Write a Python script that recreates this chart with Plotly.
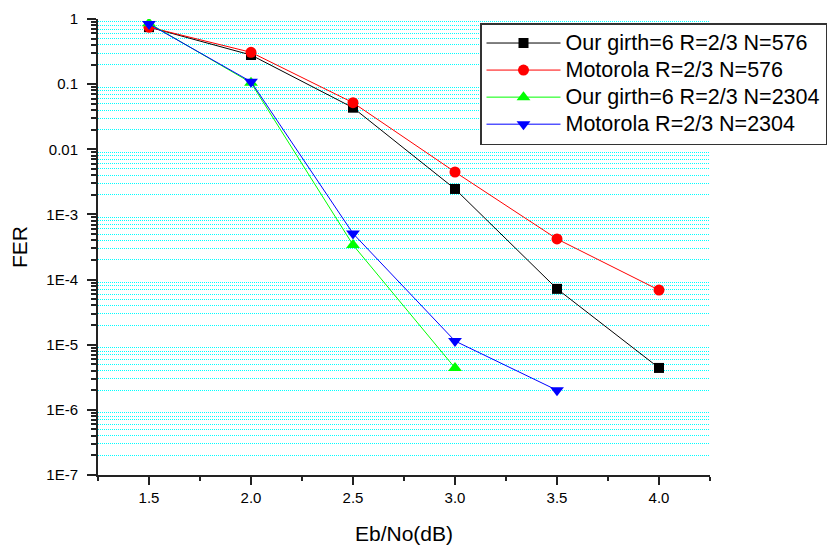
import plotly.graph_objects as go

# Eb/No operating points (dB)
ebno = [1.5, 2.0, 2.5, 3.0, 3.5, 4.0]

# Frame error rates per code
fer_our_576 = [0.75, 0.28, 0.0435, 0.00246, 7.2e-5, 4.4e-6]
fer_moto_576 = [0.75, 0.308, 0.0519, 0.00448, 4.2e-4, 6.9e-5]
ebno_2304 = [1.5, 2.0, 2.5, 3.0]
fer_our_2304 = [0.86, 0.105, 3.4e-4, 4.4e-6]
ebno_moto_2304 = [1.5, 2.0, 2.5, 3.0, 3.5]
fer_moto_2304 = [0.84, 0.109, 5.1e-4, 1.14e-5, 2.0e-6]

series_names = [
    "Our girth=6 R=2/3 N=576",
    "Motorola R=2/3 N=576",
    "Our girth=6 R=2/3 N=2304",
    "Motorola R=2/3 N=2304",
]

x_tickvals = [1.5, 2.0, 2.5, 3.0, 3.5, 4.0]
x_ticktext = ["1.5", "2.0", "2.5", "3.0", "3.5", "4.0"]
x_minor = [1.25, 1.75, 2.25, 2.75, 3.25, 3.75, 4.25]

y_tickvals = [1, 0.1, 0.01, 1e-3, 1e-4, 1e-5, 1e-6, 1e-7]
y_ticktext = ["1", "0.1", "0.01", "1E-3", "1E-4", "1E-5", "1E-6", "1E-7"]
y_minor = [k * 10.0 ** e for e in range(-7, 0) for k in range(2, 10)]

FONT = "Liberation Sans, Arial, sans-serif"

fig = go.Figure()

styles = [
    (ebno, fer_our_576, "black", "square", 10),
    (ebno, fer_moto_576, "#ff0000", "circle", 11),
    (ebno_2304, fer_our_2304, "#00ff00", "triangle-up", 12),
    (ebno_moto_2304, fer_moto_2304, "#0000ff", "triangle-down", 12),
]
for (xs, ys, color, symbol, size), name in zip(styles, series_names):
    fig.add_trace(go.Scatter(
        x=xs, y=ys,
        # larger glyphs inside a tighter legend row
        name=f'<span style="font-size:21.5px">{name}</span>',
        mode="lines+markers",
        line=dict(color=color, width=1),
        marker=dict(color=color, symbol=symbol, size=size, line=dict(width=0)),
    ))

fig.update_layout(
    width=839, height=545,
    margin=dict(l=98, r=129, t=19, b=70, autoexpand=False),
    paper_bgcolor="white", plot_bgcolor="white",
    font=dict(family=FONT, color="black"),
    showlegend=True,
    legend=dict(
        x=(480 - 98) / 612, y=(475 - 23) / 456,
        xanchor="left", yanchor="top",
        bgcolor="white", bordercolor="#333333", borderwidth=1.5,
        font=dict(family=FONT, size=18.5, color="black"),
        itemwidth=74, tracegroupgap=0,
    ),
)

fig.update_xaxes(
    range=[1.25, 4.25],
    tickmode="array", tickvals=x_tickvals, ticktext=x_ticktext,
    ticks="outside", ticklen=8, tickwidth=1.5, tickcolor="#222222",
    tickfont=dict(family=FONT, size=15, color="black"),
    showline=True, linecolor="#222222", linewidth=2,
    showgrid=False, zeroline=False,
    minor=dict(tickmode="array", tickvals=x_minor, ticks="outside",
               ticklen=4, tickwidth=1.5, tickcolor="#222222", showgrid=False),
    title=dict(text="Eb/No(dB)", font=dict(family=FONT, size=21, color="black"),
               standoff=25),
)

fig.update_yaxes(
    type="log", range=[-7, 0],
    tickmode="array", tickvals=y_tickvals, ticktext=y_ticktext,
    ticks="outside", ticklen=9, tickwidth=1.5, tickcolor="#222222",
    ticklabelstandoff=6,
    tickfont=dict(family=FONT, size=15, color="black"),
    showline=True, linecolor="#222222", linewidth=2,
    showgrid=False, zeroline=False,
    minor=dict(tickmode="array", tickvals=y_minor, ticks="outside",
               ticklen=5, tickwidth=1.5, tickcolor="#222222",
               showgrid=True, gridcolor="#00ffff", griddash="1px,1px",
               gridwidth=1),
    title=dict(text="FER", font=dict(family=FONT, size=21, color="black"),
               standoff=13),
)

fig.write_html("out.html")
